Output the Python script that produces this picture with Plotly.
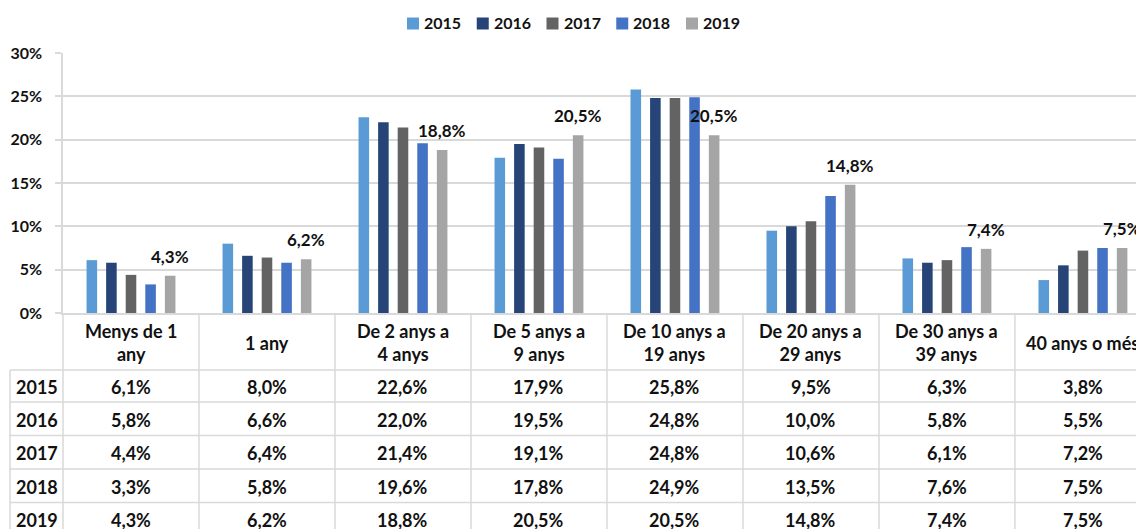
import plotly.graph_objects as go

# ---------------- data ----------------
categories = ["Menys de 1 any", "1 any", "De 2 anys a 4 anys", "De 5 anys a 9 anys",
              "De 10 anys a 19 anys", "De 20 anys a 29 anys", "De 30 anys a 39 anys",
              "40 anys o més"]
header_labels = ["Menys de 1<br>any", "1 any", "De 2 anys a<br>4 anys", "De 5 anys a<br>9 anys",
                 "De 10 anys a<br>19 anys", "De 20 anys a<br>29 anys", "De 30 anys a<br>39 anys",
                 "40 anys o més"]
years = ["2015", "2016", "2017", "2018", "2019"]
v2015 = [6.1, 8.0, 22.6, 17.9, 25.8, 9.5, 6.3, 3.8]
v2016 = [5.8, 6.6, 22.0, 19.5, 24.8, 10.0, 5.8, 5.5]
v2017 = [4.4, 6.4, 21.4, 19.1, 24.8, 10.6, 6.1, 7.2]
v2018 = [3.3, 5.8, 19.6, 17.8, 24.9, 13.5, 7.6, 7.5]
v2019 = [4.3, 6.2, 18.8, 20.5, 20.5, 14.8, 7.4, 7.5]
series = [v2015, v2016, v2017, v2018, v2019]
y_ticks = [0, 5, 10, 15, 20, 25, 30]
y_ticktext = ["0%", "5%", "10%", "15%", "20%", "25%", "30%"]

# ---------------- style ----------------
colors = ["#5B9BD5", "#264478", "#636363", "#4472C4", "#A5A5A5"]
FONT = "Lato"
TXT = "#111111"
GRID = "#D9D9D9"
PAGE_OFF = 8                     # default body margin of the html page
W, H = 1144 - PAGE_OFF, 529 - PAGE_OFF
L, T, B = 63, 53, 313            # plot area edges in screen pixels
X0, X1 = -0.5, 7.449             # x axis range (last category is cut by the frame)
BARGAP = 0.28
PLOT_W = 1144 - L


def fmt(v):
    return f"{v:.1f}".replace(".", ",") + "%"


def xp(px):
    return (px - L) / PLOT_W


def yp(py):
    return (B - py) / (B - T)


def data_px(x):
    return L + (x - X0) / (X1 - X0) * PLOT_W


fig = go.Figure()
for name, vals, col in zip(years, series, colors):
    fig.add_trace(go.Bar(x=categories, y=vals, name=name, marker_color=col,
                         marker_line_width=0, showlegend=False,
                         hovertemplate="%{x}<br>" + name + ": %{y:.1f}%<extra></extra>"))

annotations = []
shapes = []

# data labels on the last series
slot = (1 - BARGAP) / len(years)
off = ((len(years) - 1) / 2) * slot
for i, v in enumerate(v2019):
    annotations.append(dict(x=i + off, y=v, xref="x", yref="y", text=fmt(v),
                            showarrow=False, yanchor="bottom", yshift=7,
                            font=dict(family=FONT, size=17, color=TXT, weight="bold")))

# custom legend
leg_x0 = 407
leg_step = 69.75
for i, (name, col) in enumerate(zip(years, colors)):
    sx = leg_x0 + i * leg_step
    shapes.append(dict(type="rect", xref="paper", yref="paper",
                       x0=xp(sx), x1=xp(sx + 12), y0=yp(29.5), y1=yp(17.5),
                       fillcolor=col, line=dict(width=0)))
    annotations.append(dict(x=xp(sx + 15), y=yp(23), xref="paper", yref="paper",
                            text=name, showarrow=False, xanchor="left", yanchor="middle",
                            font=dict(family=FONT, size=16, color=TXT, weight="bold")))

# data table below the chart
row_edges = [370, 402, 435.5, 469, 502.5, 536]
left_px = 10
n = len(categories)
for k in range(n + 1):
    px = data_px(k - 0.5)
    shapes.append(dict(type="line", xref="paper", yref="paper",
                       x0=xp(px), x1=xp(px), y0=yp(B), y1=yp(540),
                       line=dict(color=GRID, width=1.5)))
shapes.append(dict(type="line", xref="paper", yref="paper",
                   x0=xp(left_px), x1=xp(left_px), y0=yp(row_edges[0]), y1=yp(540),
                   line=dict(color=GRID, width=1.5)))
for ry in row_edges[:-1]:
    shapes.append(dict(type="line", xref="paper", yref="paper",
                       x0=xp(left_px), x1=1.02, y0=yp(ry), y1=yp(ry),
                       line=dict(color=GRID, width=1.5)))

# header texts
for i, lab in enumerate(header_labels):
    annotations.append(dict(x=xp(data_px(i)), y=yp((B + row_edges[0]) / 2 + 1),
                            xref="paper", yref="paper", text=lab, showarrow=False,
                            xanchor="center", yanchor="middle",
                            font=dict(family=FONT, size=18, color=TXT, weight="bold")))
# rows
for r, (name, vals) in enumerate(zip(years, series)):
    cy = (row_edges[r] + row_edges[r + 1]) / 2 + 1
    annotations.append(dict(x=xp((left_px + L) / 2), y=yp(cy), xref="paper", yref="paper",
                            text=name, showarrow=False, xanchor="center", yanchor="middle",
                            font=dict(family=FONT, size=18, color=TXT, weight="bold")))
    for i, v in enumerate(vals):
        annotations.append(dict(x=xp(data_px(i)), y=yp(cy), xref="paper", yref="paper",
                                text=fmt(v), showarrow=False, xanchor="center",
                                yanchor="middle",
                                font=dict(family=FONT, size=18, color=TXT, weight="bold")))

fig.update_layout(
    width=W, height=H,
    margin=dict(l=L - PAGE_OFF, r=0, t=T - PAGE_OFF, b=H - (B - PAGE_OFF), pad=0),
    paper_bgcolor="white", plot_bgcolor="white",
    barmode="group", bargap=BARGAP, bargroupgap=0.46,
    font=dict(family=FONT, size=16, color=TXT),
    showlegend=False,
    annotations=annotations,
    shapes=shapes,
    xaxis=dict(type="category", range=[X0, X1], showticklabels=False, showgrid=False,
               zeroline=False, showline=True, linecolor=GRID, linewidth=1.5, ticks=""),
    yaxis=dict(range=[0, 30], tickvals=y_ticks, ticktext=y_ticktext,
               showgrid=True, gridcolor=GRID, gridwidth=1.5, zeroline=False,
               showline=True, linecolor=GRID, linewidth=1.5,
               ticks="outside", ticklen=6, tickcolor=GRID, tickwidth=1.5,
               ticklabelstandoff=10,
               tickfont=dict(family=FONT, size=16, color=TXT, weight="bold")),
)

fig.write_html("out.html")
